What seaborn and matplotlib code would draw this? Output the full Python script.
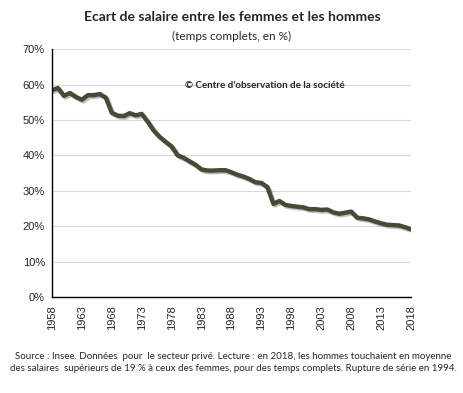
import matplotlib
matplotlib.use("Agg")
import matplotlib.pyplot as plt
import matplotlib.patheffects as pe
import seaborn as sns
import pandas as pd

# data (% gap, full time)
years = list(range(1958, 2019))
gap = [58.4, 59.0, 56.8, 57.6, 56.5, 55.7, 57.0, 57.0, 57.3, 56.3,
       52.0, 51.2, 51.1, 51.9, 51.3, 51.7, 49.5, 47.0, 45.2, 43.8,
       42.5, 40.0, 39.3, 38.3, 37.3, 36.0, 35.7, 35.7, 35.8, 35.8,
       35.2, 34.5, 34.0, 33.3, 32.4, 32.2, 31.0, 26.3, 27.1, 26.0,
       25.7, 25.5, 25.3, 24.8, 24.8, 24.6, 24.7, 23.9, 23.5, 23.8,
       24.1, 22.4, 22.2, 21.9, 21.3, 20.8, 20.4, 20.3, 20.2, 19.7,
       19.1]
xticks = list(range(1958, 2019, 5))
yticks = [0, 10, 20, 30, 40, 50, 60, 70]

df = pd.DataFrame({"annee": years, "ecart": gap})

sns.set_style("white")
plt.rcParams['font.family'] = ['Liberation Sans', 'DejaVu Sans']

fig = plt.figure(figsize=(4.64, 3.93), dpi=100)
ax = fig.add_axes([0.112, 0.2443, 0.774, 0.6307])

sns.lineplot(data=df, x="annee", y="ecart", ax=ax, color="#4a4936", linewidth=3.2,
             path_effects=[pe.SimpleLineShadow(offset=(1.2, -1.2), alpha=0.25), pe.Normal()])

ax.set_xlim(1958, 2018)
ax.set_ylim(0, 70)
ax.set_xticks(xticks)
ax.set_xticklabels([str(t) for t in xticks], rotation=90, fontsize=8)
ax.set_yticks(yticks)
ax.set_yticklabels([f"{t}%" for t in yticks], fontsize=8)
ax.set_xlabel("")
ax.set_ylabel("")
ax.yaxis.grid(True, color="#d9d9d9", linewidth=0.8)
ax.set_axisbelow(True)
for s in ["top", "right"]:
    ax.spines[s].set_visible(False)
for s in ["left", "bottom"]:
    ax.spines[s].set_color("black")
    ax.spines[s].set_linewidth(1.0)
ax.tick_params(axis="x", direction="out", length=4, width=0.8, color="black", pad=2)
ax.tick_params(axis="y", direction="out", length=3, width=0.8, color="black", pad=2)

ax.text(1980.2, 59.6, "© Centre d'observation de la société", fontsize=7.1,
        fontweight="bold", va="center", family=['Lato', 'DejaVu Sans'])

fig.text(0.500, 0.957, "Ecart de salaire entre les femmes et les hommes", ha="center",
         va="center", fontsize=10, fontweight="bold", family=['Lato', 'DejaVu Sans'])
fig.text(0.499, 0.908, "(temps complets, en %)", ha="center", va="center", fontsize=8.5,
         family=['Lato', 'DejaVu Sans'])
fig.text(0.503, 0.078, "Source : Insee. Données  pour  le secteur privé. Lecture : en 2018, les hommes touchaient en moyenne\n"
         "des salaires  supérieurs de 19 % à ceux des femmes, pour des temps complets. Rupture de série en 1994.",
         ha="center", va="center", fontsize=7.0, linespacing=1.45, family=['Lato', 'DejaVu Sans'])

fig.savefig("out.png", dpi=100)
